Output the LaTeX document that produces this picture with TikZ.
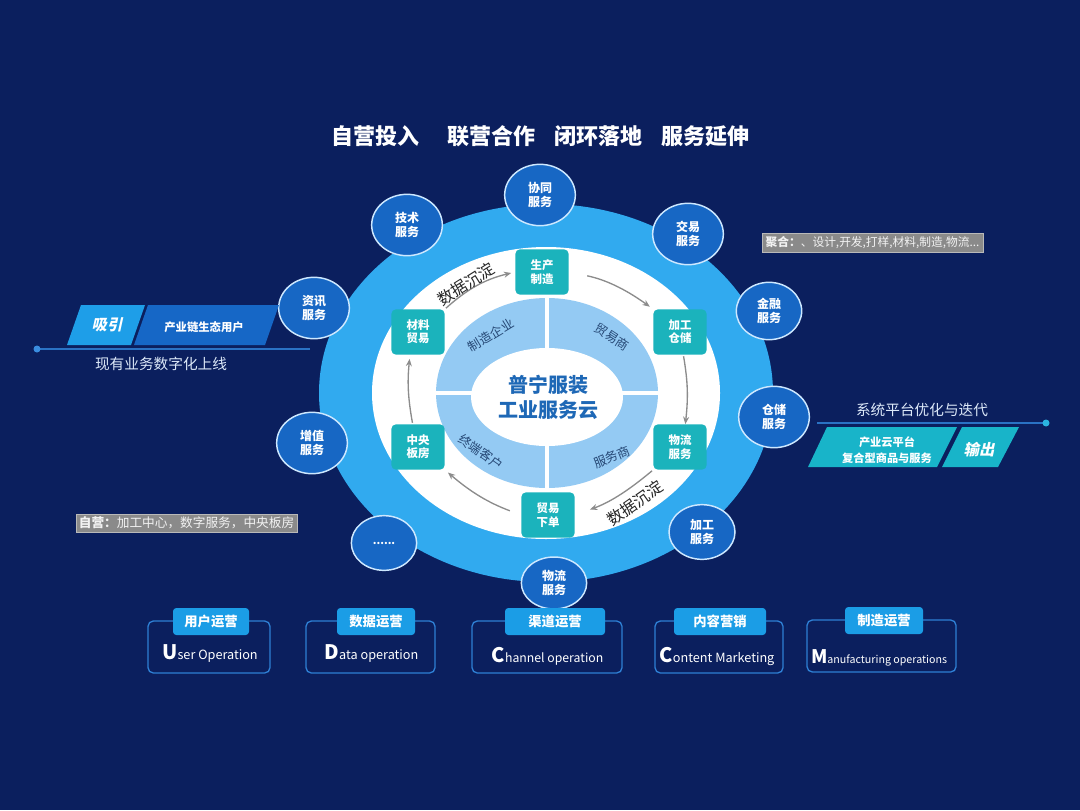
\documentclass[tikz,border=0pt]{standalone}
\usepackage{fontspec}
\setmainfont{Noto Sans CJK SC}
\newfontfamily\slantfont[FakeSlant=0.22]{Noto Sans CJK SC}
\usetikzlibrary{shapes.geometric,arrows.meta,calc}

\definecolor{bgnavy}{HTML}{0B1F5E}
\definecolor{ringblue}{HTML}{31AAEF}
\definecolor{quadblue}{HTML}{94CAF3}
\definecolor{tealc}{HTML}{1BB3BC}
\definecolor{svcblue}{HTML}{1767C4}
\definecolor{svcedge}{HTML}{CDE8FF}
\definecolor{centertext}{HTML}{1E68B6}
\definecolor{quadtext}{HTML}{264875}
\definecolor{arrgray}{HTML}{8C8C8C}
\definecolor{tabblue}{HTML}{1B9DE6}
\definecolor{outlineblue}{HTML}{2E7FD4}
\definecolor{paraA}{HTML}{1E9EE8}
\definecolor{paraB}{HTML}{1667C6}
\definecolor{paraT}{HTML}{18B4C9}
\definecolor{labelgray}{HTML}{8A8A8A}
\definecolor{lighttext}{HTML}{DCE8F8}
\definecolor{panelline}{HTML}{2A72C4}
\definecolor{dotblue}{HTML}{3A8DE0}
\definecolor{dotcyan}{HTML}{2BB4E0}

\newcommand\fsz[2]{\fontsize{#1pt}{#2pt}\selectfont}

\tikzset{
  svc/.style={ellipse, draw=svcedge, line width=1.1pt, fill=svcblue, text=white,
    font=\bfseries\fsz{9}{10.5}, align=center, inner sep=0pt,
    minimum width=53pt, minimum height=46pt},
  tealbox/.style={rectangle, rounded corners=3.5pt, fill=tealc, text=white,
    font=\bfseries\fsz{8.6}{10}, align=center, inner sep=0pt,
    minimum width=40pt, minimum height=34pt},
  arr/.style={draw=arrgray, line width=1pt, -{Stealth[length=5.5pt,width=4.5pt]}},
  qlabel/.style={text=quadtext, font=\fsz{9.5}{11}, inner sep=0pt},
  dlabel/.style={text=black!85, font=\fsz{12}{14}, inner sep=0pt},
  titlestyle/.style={text=white, font=\bfseries\fsz{16.5}{18}, inner sep=0pt},
  opbox/.style={draw=outlineblue, line width=1pt, rounded corners=4pt, inner sep=0pt,
    minimum height=39pt},
  optab/.style={fill=tabblue, rounded corners=2.5pt, text=white,
    font=\bfseries\fsz{10}{12}, inner sep=0pt, minimum height=20.25pt},
  optext/.style={text=white, inner sep=0pt, anchor=base},
  graylabel/.style={fill=labelgray, draw=gray!55, line width=0.6pt, text=white!95!black,
    inner sep=0pt},
  paneltext/.style={text=white, inner sep=0pt, align=center},
}

\begin{document}
\begin{tikzpicture}[x=0.75pt, y=-0.75pt]
\path[use as bounding box] (0,0) rectangle (1080,810);
\fill[bgnavy] (0,0) rectangle (1080,810);

% title
\node[titlestyle] (t1) at (375.5,136) {自营投入};
\node[titlestyle] (t2) at (491,136) {联营合作};
\node[titlestyle] (t3) at (598.5,136) {闭环落地};
\node[titlestyle] (t4) at (705,136) {服务延伸};

% rings
\fill[ringblue] (546,393) ellipse [x radius=227, y radius=189];
\fill[white] (546,393) ellipse [x radius=174, y radius=146];
\fill[quadblue] (547,393) ellipse [x radius=111, y radius=95];
\draw[white, line width=3pt] (547,296) -- (547,490);
\draw[white, line width=3pt] (434,393) -- (660,393);
\fill[white] (547,397) ellipse [x radius=76, y radius=49];

\node[font=\bfseries\fsz{15}{18.75}, text=centertext, align=center, inner sep=0pt]
  (core) at (548,397.5) {普宁服装\\工业服务云};

\node[qlabel, rotate=31] (q1) at (491,335) {制造企业};
\node[qlabel, rotate=-33] (q2) at (612,337) {贸易商};
\node[qlabel, rotate=-35] (q3) at (481,452) {终端客户};
\node[qlabel, rotate=22] (q4) at (612,457) {服务商};

% teal boxes
\node[tealbox] (shengchan) at (542,272) {生产\\制造};
\node[tealbox] (jiagong) at (680,332) {加工\\仓储};
\node[tealbox] (wuliu) at (680,447) {物流\\服务};
\node[tealbox] (maoyi) at (548,515) {贸易\\下单};
\node[tealbox] (zhongyang) at (418,447) {中央\\板房};
\node[tealbox] (cailiao) at (418,332) {材料\\贸易};

% cycle arrows
\draw[arr, shorten <=1pt, shorten >=3pt] (cailiao.north east) to[bend left=14] (shengchan.west);
\draw[arr, shorten <=14pt, shorten >=3pt] (shengchan.east) to[bend left=12] (jiagong.north west);
\draw[arr, shorten <=1pt] ([xshift=2.5pt]jiagong.south) to[bend left=8] ([xshift=4pt]wuliu.north);
\draw[arr, shorten <=1pt, shorten >=12pt] (wuliu.south west) to[bend left=10] (maoyi.east);
\draw[arr, shorten <=9pt, shorten >=3pt] (maoyi.west) to[bend left=10] (zhongyang.south east);
\draw[arr, shorten <=1pt, shorten >=3pt] ([xshift=-4pt]zhongyang.north) to[bend left=8] ([xshift=-6pt]cailiao.south);

\node[dlabel, rotate=32] (d1) at (466,284) {数据沉淀};
\node[dlabel, rotate=35] (d2) at (635,503) {数据沉淀};

% service bubbles
\node[svc] (jishu) at (407,225) {技术\\服务};
\node[svc] (xietong) at (540,195) {协同\\服务};
\node[svc] (jiaoyi) at (688,234) {交易\\服务};
\node[svc] (zixun) at (314,308) {资讯\\服务};
\node[svc, minimum width=49pt, minimum height=43pt] (jinrong) at (769,311) {金融\\服务};
\node[svc] (zengzhi) at (312,443) {增值\\服务};
\node[svc] (cangchu) at (774,417) {仓储\\服务};
\node[svc, minimum width=49pt, minimum height=41pt, font=\bfseries\fsz{8}{9}] (more) at (384,543) {......};
\node[svc, minimum width=49.5pt, minimum height=41pt] (jiagongfw) at (702,532) {加工\\服务};
\node[svc, minimum width=49pt, minimum height=39pt] (wuliufw) at (554,583) {物流\\服务};

% left panel
\fill[paraA] (67,345) -- (81,305) -- (145,305) -- (131,345) -- cycle;
\fill[paraB] (134,345) -- (148,305) -- (279,305) -- (265,345) -- cycle;
\node[paneltext, font=\slantfont\bfseries\fsz{11.5}{13}] (xiyin) at (107,325) {吸引};
\node[paneltext, font=\bfseries\fsz{8.5}{10}] (yonghu) at (204,327) {产业链生态用户};
\coordinate (lstart) at (37,349);
\coordinate (lend) at (310,349);
\draw[panelline, line width=1.3pt] (lstart) -- (lend);
\fill[dotblue] (lstart) circle [radius=3.5];
\node[text=lighttext, font=\fsz{11}{13}, inner sep=0pt] (xianyou) at (161,364) {现有业务数字化上线};

% right panel
\node[text=lighttext, font=\fsz{11}{13}, inner sep=0pt] (xitong) at (922,410) {系统平台优化与迭代};
\coordinate (rstart) at (817,423);
\coordinate (rend) at (1046,423);
\draw[panelline, line width=1.3pt] (rstart) -- (rend);
\fill[dotcyan] (rend) circle [radius=3.5];
\fill[paraT] (808,467) -- (827,427) -- (957,427) -- (937,467) -- cycle;
\fill[paraT] (942,467) -- (962,427) -- (1019,427) -- (998,467) -- cycle;
\node[paneltext, font=\bfseries\fsz{8.4}{12}] (chanye) at (887,450) {产业云平台\\复合型商品与服务};
\node[paneltext, font=\slantfont\bfseries\fsz{11.5}{13}] (shuchu) at (979,450) {输出};

% gray labels
\node[graylabel, minimum width=165.75pt, minimum height=14.25pt, font=\fsz{8.8}{10}]
  (juhe) at (872.5,242.5) {\textbf{聚合：}、设计,开发,打样,材料,制造,物流...};
\node[graylabel, minimum width=165.75pt, minimum height=13.5pt, font=\fsz{9.5}{11}]
  (ziying) at (186.5,523) {\textbf{自营：}加工中心，数字服务，中央板房};

% bottom operation boxes
\node[opbox, minimum width=91.5pt] (b1) at (209,647) {};
\node[opbox, minimum width=96.75pt] (b2) at (370.5,647) {};
\node[opbox, minimum width=112.5pt] (b3) at (547,647) {};
\node[opbox, minimum width=96pt] (b4) at (719,647) {};
\node[opbox, minimum width=111.75pt] (b5) at (881.5,646) {};

\node[optab, minimum width=57pt] (tab1) at (211,621.5) {用户运营};
\node[optab, minimum width=58.5pt] (tab2) at (376,621.5) {数据运营};
\node[optab, minimum width=75pt] (tab3) at (555,621.5) {渠道运营};
\node[optab, minimum width=69pt] (tab4) at (720,621.5) {内容营销};
\node[optab, minimum width=58.5pt] (tab5) at (884,620.5) {制造运营};

\node[optext] (o1) at (210,659) {{\bfseries\fsz{15}{15}U}{\fsz{9.5}{11}ser Operation}};
\node[optext] (o2) at (371.5,659) {{\bfseries\fsz{15}{15}D}{\fsz{9.5}{11}ata operation}};
\node[optext] (o3) at (547.5,662) {{\bfseries\fsz{15}{15}C}{\fsz{9.2}{11}hannel operation}};
\node[optext] (o4) at (717,662) {{\bfseries\fsz{15}{15}C}{\fsz{9.5}{11}ontent Marketing}};
\node[optext] (o5) at (879,663) {{\bfseries\fsz{14}{15}M}{\fsz{8}{10}anufacturing operations}};
\end{tikzpicture}
\end{document}
